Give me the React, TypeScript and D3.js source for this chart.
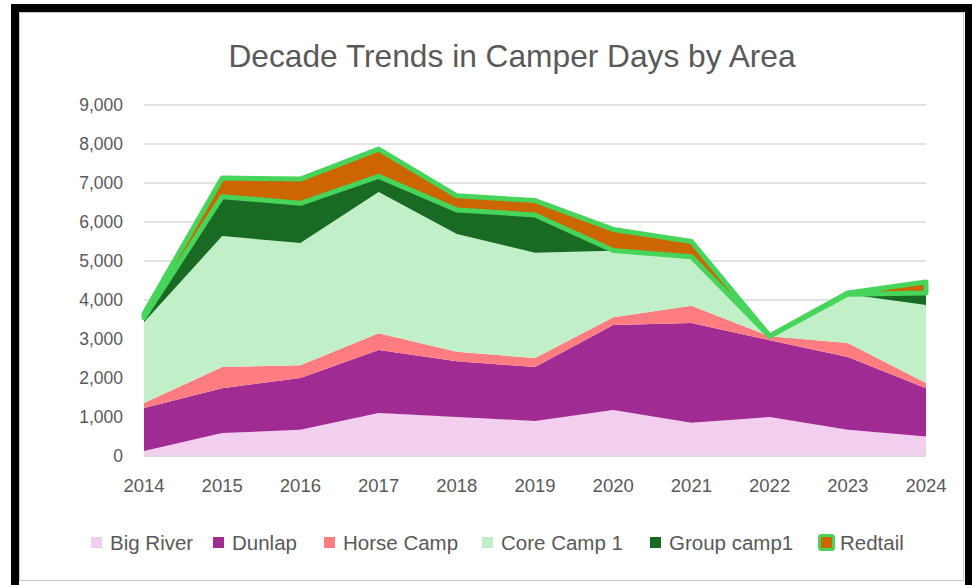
import React from "react";
import * as d3 from "d3";

const years = ["2014","2015","2016","2017","2018","2019","2020","2021","2022","2023","2024"];
const seriesNames = ["Big River","Dunlap","Horse Camp","Core Camp 1","Group camp1","Redtail"];
const bigRiver = [130, 590, 670, 1100, 1000, 900, 1180, 850, 1000, 670, 500];
const dunlap = [1100, 1150, 1330, 1620, 1430, 1380, 2180, 2560, 1970, 1870, 1240];
const horseCamp = [130, 540, 330, 430, 240, 230, 200, 440, 100, 360, 130];
const coreCamp1 = [2070, 3360, 3130, 3620, 3020, 2700, 1700, 1230, 0, 1250, 2000];
const groupCamp1 = [120, 1010, 1020, 400, 620, 970, 10, 30, 0, 0, 310];
const redtail = [100, 480, 620, 700, 360, 370, 540, 390, 10, 30, 280];
const yTicks = [0, 1000, 2000, 3000, 4000, 5000, 6000, 7000, 8000, 9000];
const colors = ["#F2CEEF", "#A02B93", "#FF7C80", "#C1F0C8", "#196B24", "#CC6600"];
const outline = "#47D45A";

export default function App() {
  const W = 972, H = 585;
  const x = d3.scalePoint<string>().domain(years).range([144, 926]);
  const y = d3.scaleLinear().domain([0, 9000]).range([456, 105]);
  const values = [bigRiver, dunlap, horseCamp, coreCamp1, groupCamp1, redtail];
  const table = years.map((yr, i) => {
    const row: any = { year: yr };
    seriesNames.forEach((n, k) => (row[n] = values[k][i]));
    return row;
  });
  const stacked = d3.stack().keys(seriesNames)(table);
  const area = d3
    .area<any>()
    .x((d) => x(d.data.year) as number)
    .y0((d) => y(d[0]))
    .y1((d) => y(d[1]));
  const font = "'Liberation Sans', Arial, sans-serif";
  const legendX = [91, 213, 324, 482, 650, 818];
  return (
    <svg width={W} height={H} style={{ position: "absolute", left: 0, top: 0 }} fontFamily={font}>
      <rect x={0} y={0} width={W} height={H} fill="#fff" />
      <rect x={11} y={4} width={970} height={600} fill="#000" />
      <rect x={19} y={12} width={946} height={580} fill="#fff" />
      <rect x={19.5} y={12.5} width={944} height={568} fill="none" stroke="#c8c8c8" strokeWidth={1} />
      <text x={512} y={67} textAnchor="middle" fontSize={31.7} fill="#595959">
        Decade Trends in Camper Days by Area
      </text>
      {yTicks.map((t) => (
        <g key={t}>
          <line x1={144} x2={926} y1={y(t)} y2={y(t)} stroke="#D9D9D9" strokeWidth={1.5} />
          <text x={123} y={y(t) + 6} textAnchor="end" fontSize={17.5} fill="#595959">
            {d3.format(",")(t)}
          </text>
        </g>
      ))}
      {stacked.map((s, k) => (
        <path
          key={s.key}
          d={area(s as any) as string}
          fill={colors[k]}
          stroke={k === 5 ? outline : "none"}
          strokeWidth={k === 5 ? 5 : 0}
          strokeLinejoin="round"
        />
      ))}
      <line x1={144} x2={926} y1={456} y2={456} stroke="#D9D9D9" strokeWidth={1.5} />
      {years.map((yr) => (
        <text key={yr} x={x(yr) as number} y={492} textAnchor="middle" fontSize={18.5} fill="#595959">
          {yr}
        </text>
      ))}
      {seriesNames.map((n, k) => (
        <g key={n}>
          {k === 5 ? (
            <rect x={legendX[k] + 1.5} y={535.5} width={14} height={14} rx={2} fill={colors[k]} stroke={outline} strokeWidth={3} />
          ) : (
            <rect x={legendX[k]} y={537} width={11} height={11} fill={colors[k]} />
          )}
          <text x={legendX[k] + (k === 5 ? 22 : 19)} y={550} fontSize={20.5} fill="#595959">
            {n}
          </text>
        </g>
      ))}
    </svg>
  );
}
